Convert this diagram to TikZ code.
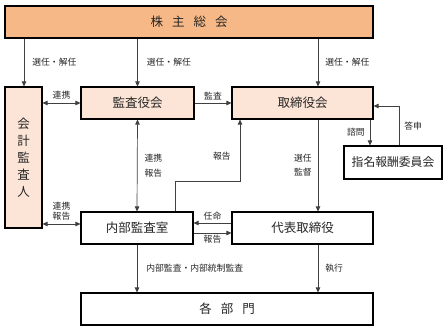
\documentclass[tikz,border=0pt]{standalone}
\usepackage{fontspec}
\setmainfont{Noto Sans CJK JP}
\usetikzlibrary{arrows.meta,positioning}
\definecolor{boxOrange}{HTML}{F6B886}
\definecolor{boxPeach}{HTML}{FCE4D6}
\definecolor{lineGray}{HTML}{404040}
\definecolor{textGray}{HTML}{262626}

\begin{document}
\begin{tikzpicture}[x=1pt, y=-1pt,
    box/.style={draw=black, line width=1.1pt, inner sep=0pt, text=textGray, font=\fontsize{12.5}{17}\selectfont},
    arr/.style={-{Triangle[length=5pt,width=4.5pt]}, line width=0.7pt, draw=lineGray},
    dblarr/.style={{Triangle[length=5pt,width=4.5pt]}-{Triangle[length=5pt,width=4.5pt]}, line width=0.7pt, draw=lineGray},
    lbl/.style={text=textGray, inner sep=1pt, align=center, font=\fontsize{8.8}{10.5}\selectfont}]
  \useasboundingbox (0,0) rectangle (447,333);
  % boxes
  \node[box, fill=boxOrange, minimum width=368pt, minimum height=32pt] (kabu) at (189,22) {株\hspace{9pt}主\hspace{9pt}総\hspace{9pt}会};
  \node[box, fill=boxPeach, minimum width=37pt, minimum height=141pt, align=center] (kaikei) at (23.5,157.5) {会\\計\\監\\査\\人};
  \node[box, fill=boxPeach, minimum width=113pt, minimum height=32pt] (kansa) at (137.5,103) {監査役会};
  \node[box, fill=boxPeach, minimum width=141pt, minimum height=32pt] (tori) at (302.5,103) {取締役会};
  \node[box, fill=white, minimum width=98pt, minimum height=33pt, font=\fontsize{11.8}{14}\selectfont] (shimei) at (393,162.5) {指名報酬委員会};
  \node[box, fill=white, minimum width=112pt, minimum height=32pt] (naibu) at (137,228) {内部監査室};
  \node[box, fill=white, minimum width=141pt, minimum height=32pt] (daihyo) at (302.5,228) {代表取締役};
  \node[box, fill=white, minimum width=292pt, minimum height=32pt] (kakubu) at (227,309) {各\hspace{9pt}部\hspace{9pt}門};
  % columns for the vertical connectors
  \coordinate (cL) at (24,0);
  \coordinate (cR) at (318,0);
  \coordinate (cS) at (370,0);
  \coordinate (cT) at (399,106);
  \coordinate (rptX) at (175,0);
  \coordinate (rptY) at (240,181);
  \coordinate (linkN) at ([yshift=4pt]naibu.west);
  % election from the shareholders
  \draw[arr] (kabu.south -| cL) -- (kaikei.north -| cL) node[lbl, midway, anchor=west, xshift=7pt] {選任・解任};
  \draw[arr] (kabu.south -| kansa) -- (kansa.north) node[lbl, midway, anchor=west, xshift=8pt] {選任・解任};
  \draw[arr] (kabu.south -| cR) -- (tori.north -| cR) node[lbl, midway, anchor=west, xshift=6pt] {選任・解任};
  % horizontal links
  \draw[dblarr] (kaikei.east |- kansa) -- (kansa.west) node[lbl, midway, above=2pt] {連携};
  \draw[arr] (kansa.east) -- (tori.west) node[lbl, midway, above=2pt] {監査};
  \draw[dblarr] (kaikei.east |- linkN) -- (linkN) node[lbl, midway, above=2pt, font=\fontsize{8.8}{10}\selectfont] {連携\\報告};
  \draw[arr] ([yshift=5pt]daihyo.west) -- ([yshift=5pt]naibu.east) node[lbl, midway, above=1pt] {任命};
  \draw[arr] ([yshift=-5pt]naibu.east) -- ([yshift=-5pt]daihyo.west) node[lbl, midway, below=1pt] {報告};
  % vertical links
  \draw[dblarr] (kansa.south) -- (naibu.north) node[lbl, midway, anchor=west, xshift=6pt, font=\fontsize{8.8}{15}\selectfont] {連携\\報告};
  \draw[arr] (naibu.north -| rptX) |- (rptY) -- (tori.south -| rptY) node[lbl, pos=0.4, anchor=east, xshift=-8pt] {報告};
  \draw[arr] (tori.south -| cR) -- (daihyo.north -| cR) node[lbl, midway, anchor=east, xshift=-5pt, font=\fontsize{8.8}{14}\selectfont] {選任\\監督};
  \draw[arr] (tori.south -| cS) -- (shimei.north -| cS) node[lbl, midway, anchor=east, xshift=-4pt] {諮問};
  \draw[arr] (shimei.north -| cT) |- (tori.east |- cT) node[lbl, pos=0.25, anchor=west, xshift=4pt] {答申};
  \draw[arr] (naibu.south) -- (kakubu.north -| naibu) node[lbl, midway, anchor=west, xshift=8pt] {内部監査・内部統制監査};
  \draw[arr] (daihyo.south -| cR) -- (kakubu.north -| cR) node[lbl, midway, anchor=west, xshift=6pt] {執行};
\end{tikzpicture}
\end{document}
